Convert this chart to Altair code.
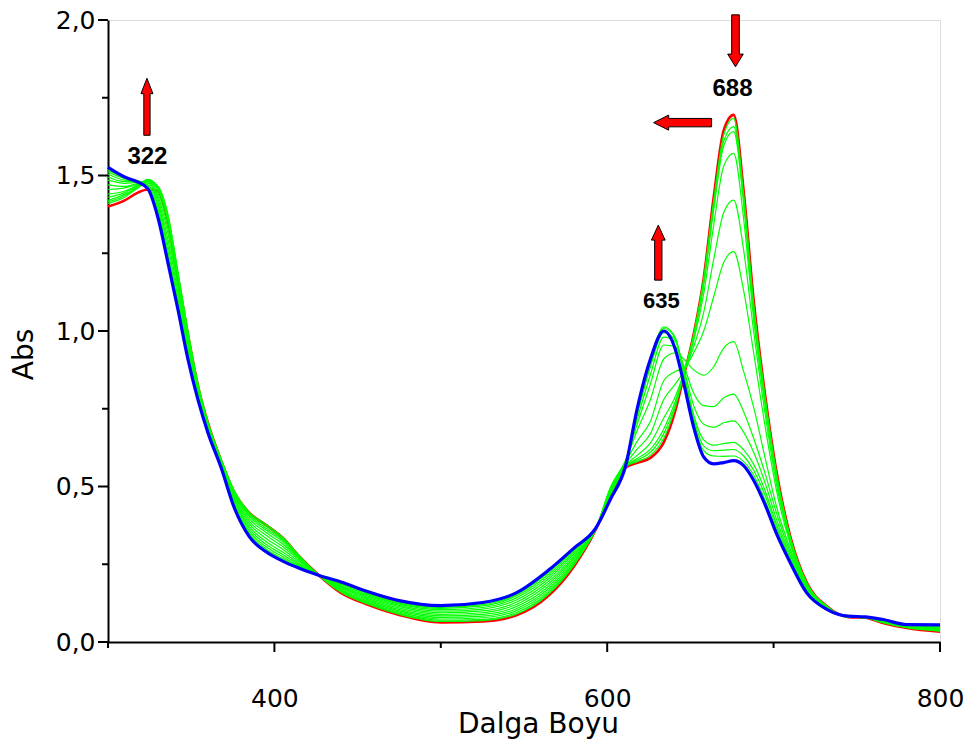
import altair as alt
import pandas as pd

# Wavelength grid (nm) shared by every spectrum
wavelength = [300, 310, 318, 324, 330, 336, 342, 348, 354, 360,
              368, 376, 385, 395, 405, 415, 427, 440, 455, 475,
              500, 525, 545, 565, 580, 593, 602, 611, 618, 626,
              634, 641, 646, 652, 658, 664, 670, 676, 682, 688,
              695, 702, 710, 720, 732, 745, 755, 765, 780, 800]

# First spectrum of the titration (red)
abs_start = [1.40, 1.42, 1.445, 1.455, 1.45, 1.345, 1.17, 0.99, 0.825, 0.705,
             0.583, 0.48, 0.415, 0.376, 0.335, 0.275, 0.213, 0.158, 0.122, 0.087,
             0.063, 0.066, 0.085, 0.15, 0.243, 0.36, 0.47, 0.56, 0.576, 0.592,
             0.642, 0.745, 0.855, 0.99, 1.17, 1.43, 1.645, 1.695, 1.45, 1.10,
             0.79, 0.54, 0.34, 0.19, 0.115, 0.08, 0.078, 0.062, 0.045, 0.033]

# Last spectrum of the titration (blue)
abs_end = [1.526, 1.495, 1.479, 1.457, 1.365, 1.22, 1.07, 0.91, 0.78, 0.674,
           0.56, 0.43, 0.338, 0.29, 0.26, 0.237, 0.214, 0.193, 0.164, 0.133,
           0.117, 0.127, 0.157, 0.232, 0.302, 0.365, 0.46, 0.565, 0.75, 0.91,
           1.0, 0.94, 0.832, 0.69, 0.595, 0.573, 0.577, 0.583, 0.567, 0.52,
           0.44, 0.345, 0.255, 0.157, 0.105, 0.083, 0.081, 0.073, 0.056, 0.055]

# Intermediate spectra (green)
abs_step_01 = [1.41, 1.43, 1.46, 1.48, 1.465, 1.375, 1.19, 1.0, 0.832, 0.708,
               0.588, 0.485, 0.417, 0.378, 0.337, 0.277, 0.213, 0.160, 0.124, 0.089,
               0.066, 0.069, 0.089, 0.155, 0.247, 0.362, 0.474, 0.562, 0.58, 0.60,
               0.655, 0.755, 0.86, 0.99, 1.17, 1.42, 1.63, 1.684, 1.44, 1.09,
               0.785, 0.535, 0.338, 0.189, 0.115, 0.08, 0.078, 0.063, 0.046, 0.035]
abs_step_02 = [1.415, 1.435, 1.462, 1.485, 1.465, 1.372, 1.19, 1.0, 0.83, 0.706,
               0.587, 0.484, 0.413, 0.372, 0.333, 0.275, 0.213, 0.163, 0.127, 0.092,
               0.07, 0.073, 0.094, 0.16, 0.251, 0.362, 0.478, 0.564, 0.585, 0.61,
               0.67, 0.765, 0.86, 0.985, 1.16, 1.40, 1.61, 1.657, 1.42, 1.07,
               0.775, 0.53, 0.335, 0.188, 0.114, 0.08, 0.078, 0.064, 0.047, 0.036]
abs_step_03 = [1.42, 1.44, 1.465, 1.487, 1.463, 1.368, 1.185, 0.996, 0.826, 0.704,
               0.585, 0.482, 0.408, 0.366, 0.328, 0.272, 0.213, 0.166, 0.13, 0.096,
               0.074, 0.078, 0.1, 0.166, 0.256, 0.362, 0.482, 0.566, 0.59, 0.62,
               0.685, 0.775, 0.862, 0.98, 1.15, 1.39, 1.595, 1.641, 1.41, 1.06,
               0.77, 0.525, 0.332, 0.187, 0.114, 0.081, 0.078, 0.065, 0.048, 0.037]
abs_step_04 = [1.43, 1.445, 1.468, 1.488, 1.46, 1.362, 1.18, 0.99, 0.822, 0.70,
               0.583, 0.479, 0.403, 0.36, 0.322, 0.269, 0.213, 0.169, 0.134, 0.1,
               0.079, 0.083, 0.106, 0.173, 0.261, 0.362, 0.487, 0.569, 0.60, 0.64,
               0.72, 0.79, 0.865, 0.97, 1.12, 1.34, 1.53, 1.571, 1.36, 1.04,
               0.755, 0.515, 0.328, 0.185, 0.113, 0.081, 0.079, 0.066, 0.049, 0.038]
abs_step_05 = [1.44, 1.45, 1.47, 1.487, 1.455, 1.352, 1.17, 0.982, 0.817, 0.698,
               0.58, 0.475, 0.396, 0.352, 0.315, 0.266, 0.213, 0.172, 0.138, 0.104,
               0.084, 0.089, 0.113, 0.18, 0.267, 0.362, 0.492, 0.573, 0.62, 0.67,
               0.78, 0.83, 0.87, 0.95, 1.06, 1.23, 1.38, 1.421, 1.26, 1.0,
               0.73, 0.50, 0.322, 0.182, 0.112, 0.081, 0.079, 0.067, 0.05, 0.039]
abs_step_06 = [1.455, 1.46, 1.472, 1.485, 1.445, 1.335, 1.155, 0.972, 0.811, 0.695,
               0.577, 0.47, 0.388, 0.343, 0.307, 0.262, 0.213, 0.175, 0.142, 0.109,
               0.089, 0.094, 0.12, 0.188, 0.272, 0.362, 0.496, 0.578, 0.645, 0.71,
               0.84, 0.87, 0.88, 0.93, 1.0, 1.11, 1.22, 1.255, 1.13, 0.93,
               0.69, 0.48, 0.315, 0.179, 0.111, 0.082, 0.079, 0.068, 0.051, 0.04]
abs_step_07 = [1.47, 1.465, 1.475, 1.482, 1.435, 1.315, 1.14, 0.962, 0.805, 0.691,
               0.574, 0.464, 0.38, 0.333, 0.298, 0.257, 0.213, 0.178, 0.146, 0.114,
               0.094, 0.1, 0.127, 0.196, 0.278, 0.362, 0.498, 0.583, 0.68, 0.78,
               0.91, 0.93, 0.91, 0.875, 0.858, 0.885, 0.945, 0.966, 0.87, 0.755,
               0.59, 0.43, 0.30, 0.174, 0.11, 0.082, 0.08, 0.069, 0.052, 0.042]
abs_step_08 = [1.485, 1.475, 1.478, 1.478, 1.425, 1.295, 1.125, 0.951, 0.80, 0.687,
               0.57, 0.458, 0.372, 0.323, 0.289, 0.252, 0.213, 0.181, 0.15, 0.118,
               0.099, 0.106, 0.134, 0.204, 0.284, 0.362, 0.495, 0.583, 0.70, 0.83,
               0.955, 0.95, 0.89, 0.80, 0.76, 0.757, 0.785, 0.797, 0.74, 0.655,
               0.54, 0.41, 0.29, 0.17, 0.109, 0.082, 0.08, 0.07, 0.053, 0.044]
abs_step_09 = [1.495, 1.48, 1.48, 1.475, 1.415, 1.275, 1.11, 0.94, 0.795, 0.684,
               0.567, 0.452, 0.364, 0.314, 0.281, 0.248, 0.213, 0.184, 0.154, 0.122,
               0.104, 0.111, 0.141, 0.211, 0.289, 0.362, 0.488, 0.58, 0.715, 0.86,
               0.98, 0.965, 0.88, 0.76, 0.70, 0.69, 0.705, 0.711, 0.675, 0.61,
               0.51, 0.39, 0.28, 0.167, 0.108, 0.083, 0.08, 0.07, 0.053, 0.046]
abs_step_10 = [1.505, 1.485, 1.482, 1.47, 1.405, 1.258, 1.097, 0.93, 0.79, 0.681,
               0.565, 0.445, 0.356, 0.306, 0.274, 0.244, 0.213, 0.187, 0.157, 0.125,
               0.108, 0.116, 0.147, 0.218, 0.294, 0.362, 0.477, 0.575, 0.728, 0.885,
               0.995, 0.97, 0.87, 0.73, 0.65, 0.633, 0.638, 0.642, 0.618, 0.572,
               0.485, 0.375, 0.272, 0.164, 0.107, 0.083, 0.08, 0.071, 0.054, 0.048]
abs_step_11 = [1.512, 1.49, 1.483, 1.466, 1.395, 1.243, 1.087, 0.922, 0.786, 0.678,
               0.562, 0.44, 0.349, 0.299, 0.268, 0.241, 0.213, 0.189, 0.16, 0.128,
               0.111, 0.12, 0.151, 0.224, 0.297, 0.362, 0.467, 0.57, 0.737, 0.895,
               1.008, 0.975, 0.865, 0.72, 0.63, 0.615, 0.617, 0.619, 0.598, 0.552,
               0.47, 0.365, 0.266, 0.161, 0.106, 0.083, 0.081, 0.072, 0.055, 0.05]
abs_step_12 = [1.518, 1.493, 1.482, 1.462, 1.385, 1.232, 1.078, 0.915, 0.783, 0.676,
               0.56, 0.435, 0.343, 0.294, 0.263, 0.239, 0.213, 0.191, 0.162, 0.131,
               0.114, 0.124, 0.154, 0.228, 0.30, 0.362, 0.458, 0.566, 0.744, 0.905,
               1.013, 0.978, 0.86, 0.71, 0.615, 0.598, 0.597, 0.598, 0.58, 0.537,
               0.455, 0.355, 0.26, 0.159, 0.106, 0.083, 0.081, 0.072, 0.055, 0.052]

# Peak annotations (data units)
peak_labels = ["322", "688"]
peak_label_nm = [323.7, 675.3]
peak_label_abs = [1.558, 1.778]
small_label = ["635"]
small_label_nm = [632.6]
small_label_abs = [1.097]

# Arrow anchors (data units)
arrow_up_uv = (323.4, 1.721)
arrow_down_q = (677.1, 1.933)
arrow_left_q = (645.3, 1.670)
arrow_up_q = (630.7, 1.252)

# Tick positions
x_major_ticks = [400, 600, 800]
x_minor_ticks = [300, 500, 700]
y_major_ticks = [0, 0.5, 1.0, 1.5, 2.0]
y_minor_ticks = [0.25, 0.75, 1.25, 1.75]

# Block-arrow glyphs in the unit square used by Vega custom symbols
UP_PATH = "M0,-1L0.21,-0.46L0.11,-0.46L0.11,1L-0.11,1L-0.11,-0.46L-0.21,-0.46Z"
UP_PATH_B = "M0,-1L0.25,-0.455L0.133,-0.455L0.133,1L-0.133,1L-0.133,-0.455L-0.25,-0.455Z"
DOWN_PATH = "M0,1L0.3,0.51L0.146,0.51L0.146,-1L-0.146,-1L-0.146,0.51L-0.3,0.51Z"
LEFT_PATH = "M-1,0L-0.48,-0.26L-0.48,-0.145L1,-0.145L1,0.145L-0.48,0.145L-0.48,0.26Z"

PLOT_W, PLOT_H = 832, 622


def frame(series):
    rows = []
    for name, values in series:
        for nm, a in zip(wavelength, values):
            rows.append({"nm": nm, "abs": a, "run": name})
    return pd.DataFrame(rows)


df_start = frame([("start", abs_start)])
df_end = frame([("end", abs_end)])
df_steps = frame([
    ("s01", abs_step_01), ("s02", abs_step_02), ("s03", abs_step_03),
    ("s04", abs_step_04), ("s05", abs_step_05), ("s06", abs_step_06),
    ("s07", abs_step_07), ("s08", abs_step_08), ("s09", abs_step_09),
    ("s10", abs_step_10), ("s11", abs_step_11), ("s12", abs_step_12),
])

x_scale = alt.Scale(domain=[300, 800], nice=False, zero=False)
y_scale = alt.Scale(domain=[0, 2.0], nice=False, zero=False)

LABEL_FONT = "DejaVu Sans"

# Axes carry the domain line, labels and titles; tick marks are drawn as rules
x_axis = alt.Axis(
    orient="bottom", values=x_major_ticks, ticks=False, tickSize=0,
    domainColor="black", domainWidth=2, grid=False,
    labelFont=LABEL_FONT, labelFontSize=25, labelColor="black",
    labelPadding=44, labelFlush=False, labelOverlap=False,
    title="Dalga Boyu", titleFont=LABEL_FONT, titleFontSize=28,
    titleFontWeight="normal", titleColor="black", titleBaseline="alphabetic",
    titleAlign="center", titleX=430, titleY=90,
)
y_axis = alt.Axis(
    orient="left", values=y_major_ticks, ticks=False, tickSize=0,
    domainColor="black", domainWidth=2, grid=False,
    labelFont=LABEL_FONT, labelFontSize=25, labelColor="black",
    labelPadding=13, labelFlush=False, labelOverlap=False,
    labelExpr="replace(format(datum.value, '.1f'), '.', ',')",
    title="Abs", titleFont=LABEL_FONT, titleFontSize=28,
    titleFontWeight="normal", titleColor="black", titleBaseline="alphabetic",
    titleAlign="center", titleX=-76, titleY=334,
)


def xy(x_ax=None, y_ax=None):
    return dict(
        x=alt.X("nm:Q", scale=x_scale, axis=x_ax),
        y=alt.Y("abs:Q", scale=y_scale, axis=y_ax),
    )


start_line = alt.Chart(df_start).mark_line(
    color="#ff0000", strokeWidth=2.6, interpolate="monotone"
).encode(**xy(x_axis, y_axis))

step_lines = alt.Chart(df_steps).mark_line(
    color="#00ff00", strokeWidth=1.2, interpolate="monotone"
).encode(detail="run:N", **xy())

end_line = alt.Chart(df_end).mark_line(
    color="#0000ff", strokeWidth=3.2, interpolate="monotone"
).encode(**xy())


def x_tick_rules(values, length):
    return alt.Chart(pd.DataFrame({"nm": values})).mark_rule(
        color="black", strokeWidth=2
    ).encode(
        x=alt.X("nm:Q", scale=x_scale, axis=None),
        y=alt.value(PLOT_H), y2=alt.value(PLOT_H + length),
    )


def y_tick_rules(values, length):
    return alt.Chart(pd.DataFrame({"abs": values})).mark_rule(
        color="black", strokeWidth=2
    ).encode(
        y=alt.Y("abs:Q", scale=y_scale, axis=None),
        x=alt.value(-length), x2=alt.value(0),
    )


tick_layers = [
    x_tick_rules(x_major_ticks, 10),
    x_tick_rules(x_minor_ticks, 6),
    y_tick_rules(y_major_ticks, 10),
    y_tick_rules(y_minor_ticks, 6),
]


def arrow(anchor, path, size):
    data = pd.DataFrame({"nm": [anchor[0]], "abs": [anchor[1]]})
    return alt.Chart(data).mark_point(
        shape=path, size=size, filled=True, fill="#ff0000", stroke="black",
        strokeWidth=1, opacity=1,
    ).encode(**xy())


arrows = [
    arrow(arrow_up_uv, UP_PATH, 3249),
    arrow(arrow_down_q, DOWN_PATH, 2704),
    arrow(arrow_left_q, LEFT_PATH, 3364),
    arrow(arrow_up_q, UP_PATH_B, 3025),
]

labels_big = alt.Chart(pd.DataFrame({
    "nm": peak_label_nm, "abs": peak_label_abs, "label": peak_labels
})).mark_text(
    font="Liberation Sans", fontWeight="bold", fontSize=24, color="black",
    align="center", baseline="middle",
).encode(text="label:N", **xy())

labels_small = alt.Chart(pd.DataFrame({
    "nm": small_label_nm, "abs": small_label_abs, "label": small_label
})).mark_text(
    font="Liberation Sans", fontWeight="bold", fontSize=22, color="black",
    align="center", baseline="middle",
).encode(text="label:N", **xy())

chart = alt.layer(
    start_line, step_lines, end_line, *tick_layers, *arrows,
    labels_big, labels_small
).resolve_axis(
    x="independent", y="independent"
).properties(
    width=PLOT_W, height=PLOT_H,
    padding={"left": 108, "top": 20, "right": 25, "bottom": 98},
    autosize=alt.AutoSizeParams(type="none"),
).configure_view(strokeWidth=0).configure(background="white")

chart.save("out.html", embed_options={"renderer": "svg", "actions": False})
